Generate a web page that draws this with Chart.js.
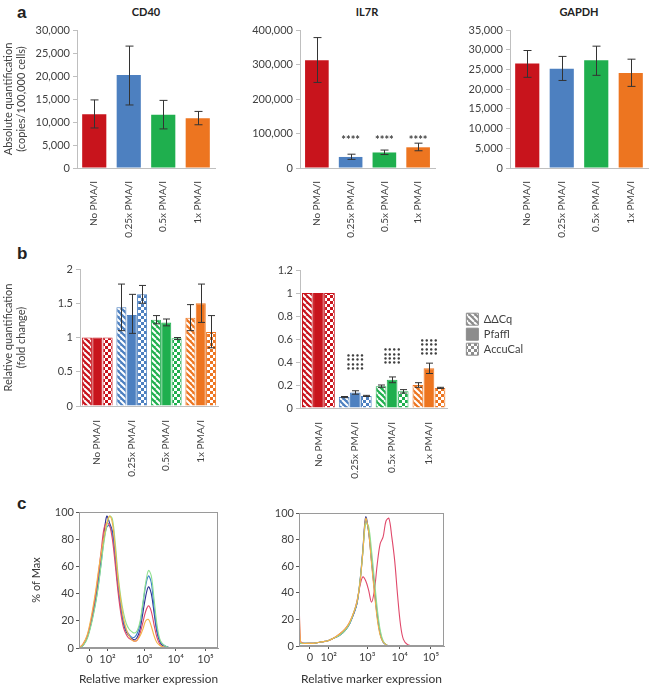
<!DOCTYPE html>
<html><head><meta charset="utf-8">
<script src="https://cdn.jsdelivr.net/npm/chart.js@4.4.1/dist/chart.umd.min.js"></script>
<style>
body{margin:0;background:#fff;}
#root{position:relative;width:650px;height:686px;overflow:hidden;background:#fff;}
.w{position:absolute;}
.t{position:absolute;font-family:Lato,"DejaVu Sans",sans-serif;color:#222;}
.p{font:bold 17px "Liberation Sans",Arial,sans-serif;}
.h{font-weight:bold;font-size:11px;text-align:center;width:100px;}
</style></head><body><div id="root">
<div class="t p" style="left:17px;top:3px">a</div>
<div class="t p" style="left:17px;top:244px">b</div>
<div class="t p" style="left:17px;top:494px">c</div>
<div class="t h" style="left:96px;top:5px">CD40</div>
<div class="t h" style="left:317px;top:5px">IL7R</div>
<div class="t h" style="left:529px;top:5px">GAPDH</div>
<div class="w" style="left:0px;top:0px"><canvas id="a1" width="222" height="245"></canvas></div>
<div class="w" style="left:225px;top:0px"><canvas id="a2" width="215" height="245"></canvas></div>
<div class="w" style="left:440px;top:0px"><canvas id="a3" width="210" height="245"></canvas></div>
<div class="w" style="left:0px;top:250px"><canvas id="b1" width="225" height="240"></canvas></div>
<div class="w" style="left:228px;top:250px"><canvas id="b2" width="305" height="240"></canvas></div>
<div class="w" style="left:30px;top:495px"><canvas id="c1" width="195" height="191"></canvas></div>
<div class="w" style="left:255px;top:495px"><canvas id="c2" width="195" height="191"></canvas></div>
</div>
<script>
// ---------------- DATA ----------------
const categories = ['No PMA/I','0.25x PMA/I','0.5x PMA/I','1x PMA/I'];
const groupColors = ['#c8141c','#4d80c0','#1faf4e','#ed7520'];

// panel a: absolute quantification (copies/100,000 cells)
const cd40Values = [11700, 20200, 11600, 10800];
const cd40Low    = [8700, 13700, 8500, 9400];
const cd40High   = [14800, 26500, 14700, 12300];
const il7rValues = [312000, 32000, 45000, 60000];
const il7rLow    = [248000, 25000, 39000, 50000];
const il7rHigh   = [378000, 40000, 52000, 72000];
const il7rSig    = ['', '****', '****', '****'];
const il7rSigPos = [null, 97000, 97000, 97000];
const gapdhValues = [26500, 25200, 27300, 24100];
const gapdhLow    = [23000, 22200, 23500, 20700];
const gapdhHigh   = [29800, 28300, 30900, 27600];

// panel b: relative quantification (fold change)
const methods = ['ΔΔCq', 'Pfaffl', 'AccuCal'];
const cd40DdCq     = [1, 1.44, 1.26, 1.29];
const cd40DdCqLow  = [null, 1.10, 1.20, 1.10];
const cd40DdCqHigh = [null, 1.78, 1.32, 1.48];
const cd40Pfaffl     = [1, 1.33, 1.22, 1.50];
const cd40PfafflLow  = [null, 1.06, 1.17, 1.22];
const cd40PfafflHigh = [null, 1.63, 1.27, 1.78];
const cd40AccuCal     = [1, 1.63, 0.99, 1.08];
const cd40AccuCalLow  = [null, 1.50, 0.97, 0.85];
const cd40AccuCalHigh = [null, 1.76, 1.00, 1.32];

const il7rDdCq     = [1, 0.095, 0.19, 0.20];
const il7rDdCqLow  = [null, 0.09, 0.18, 0.18];
const il7rDdCqHigh = [null, 0.10, 0.20, 0.22];
const il7rPfaffl     = [1, 0.135, 0.245, 0.345];
const il7rPfafflLow  = [null, 0.12, 0.22, 0.30];
const il7rPfafflHigh = [null, 0.15, 0.27, 0.39];
const il7rAccuCal     = [1, 0.105, 0.145, 0.175];
const il7rAccuCalLow  = [null, 0.10, 0.13, 0.17];
const il7rAccuCalHigh = [null, 0.11, 0.16, 0.18];
const il7rRelSig    = ['', '••••\n••••\n••••\n••••', '••••\n••••\n••••\n••••', '••••\n••••\n••••\n••••'];
const il7rRelSigTop = [null, 0.48, 0.53, 0.61];

// panel c: flow cytometry histograms (% of Max)
const cTickPos    = [7.5, 20.5, 47, 69.5, 91];
const cTickLabels = ['0', '10²', '10³', '10⁴', '10⁵'];
const cLeftX = [0,3,6,9,12,14,16,18,20,22,24,26,28,30,32,34,36,38,40,42,44,46,48,50,52,54,56,58,60,63,66,70,80,90,100];
const cLeftNavy   = [0,2,8,20,36,50,66,84,97,92,86,68,46,30,18,12,9,7,6,8,14,26,38,45,40,26,12,5,2,1,0,0,0,0,0];
const cLeftBlue   = [0,2,8,19,34,47,63,80,89,90,84,67,46,30,19,13,10,8,8,11,18,32,46,53,48,30,14,6,3,1,0,0,0,0,0];
const cLeftGreen  = [0,2,7,18,33,46,62,78,90,97,95,78,55,38,26,18,14,12,11,13,20,34,48,57,53,36,18,7,3,1,0,0,0,0,0];
const cLeftRed    = [0,3,9,22,40,55,72,88,92,90,80,62,42,26,15,10,7,6,5,6,11,19,27,31,27,17,8,3,1,0,0,0,0,0,0];
const cLeftOrange = [0,3,10,24,42,57,70,82,92,97,92,74,52,35,22,14,9,6,5,6,9,14,20,21,16,9,4,2,1,0,0,0,0,0,0];
const cRightX = [0,1,3,6,10,15,20,24,28,32,35,38,40,42,44,46,48,50,52,54,56,58,60,62,64,66,68,70,72,75,80,90,100];
const cRightNavy   = [3,2,2,2,2,3,4,6,8,12,17,25,32,48,72,97,86,64,42,22,9,3,1,0,0,0,0,0,0,0,0,0,0];
const cRightBlue   = [3,2,2,2,2,3,4,6,8,12,17,25,32,47,70,95,87,66,44,24,10,3,1,0,0,0,0,0,0,0,0,0,0];
const cRightGreen  = [3,2,2,2,2,3,4,6,8,12,17,26,33,48,70,92,90,72,50,28,12,4,1,0,0,0,0,0,0,0,0,0,0];
const cRightOrange = [45,3,2,2,2,3,4,6,9,13,18,26,33,47,70,96,86,62,40,20,8,3,1,0,0,0,0,0,0,0,0,0,0];
const cRightRed    = [48,4,2,2,2,3,4,6,9,13,18,26,34,45,52,49,42,33,42,62,77,82,94,96,82,64,38,16,5,1,0,0,0];

// ---------------- STYLE / HELPERS ----------------
Chart.defaults.font.family = 'Lato, "DejaVu Sans", sans-serif';
Chart.defaults.font.size = 11;
Chart.defaults.color = '#404040';
Chart.defaults.locale = 'en-US';
Chart.defaults.animation = false;
const AXIS = '#bfbfbf';
const ERR = '#333333';

function makePattern(color, type){
  const c = document.createElement('canvas'); c.width = 6; c.height = 6;
  const g = c.getContext('2d');
  if (type === 'hatch'){
    g.fillStyle = color; g.fillRect(0,0,6,6);
    g.strokeStyle = '#fff'; g.lineWidth = 2; g.beginPath();
    for (const k of [-6,0,6]){ g.moveTo(k,0); g.lineTo(k+6,6); }
    g.stroke();
  } else if (type === 'check'){
    g.fillStyle = '#fff'; g.fillRect(0,0,6,6);
    g.fillStyle = color; g.fillRect(3,0,3,3); g.fillRect(0,3,3,3);
  } else { g.fillStyle = color; g.fillRect(0,0,6,6); }
  return g.createPattern(c,'repeat');
}

const errorBarPlugin = {
  id:'errbars',
  afterDatasetsDraw(chart, args, o){
    const ctx = chart.ctx, ys = chart.scales.y, cap = o.cap || 4;
    chart.data.datasets.forEach((ds,i)=>{
      if (!ds.errLow) return;
      chart.getDatasetMeta(i).data.forEach((el,j)=>{
        const lo = ds.errLow[j], hi = ds.errHigh[j];
        if (lo == null || hi == null) return;
        const x = Math.round(el.x)+0.5, y1 = ys.getPixelForValue(lo), y2 = ys.getPixelForValue(hi);
        ctx.save(); ctx.strokeStyle = ERR; ctx.lineWidth = 1; ctx.beginPath();
        ctx.moveTo(x,y1); ctx.lineTo(x,y2);
        ctx.moveTo(x-cap,y1); ctx.lineTo(x+cap,y1);
        ctx.moveTo(x-cap,y2); ctx.lineTo(x+cap,y2);
        ctx.stroke(); ctx.restore();
      });
    });
  }
};
const sigPlugin = {
  id:'sig',
  afterDatasetsDraw(chart, args, o){
    if (!o.text) return;
    const meta = chart.getDatasetMeta(o.dataset || 0), ys = chart.scales.y, ctx = chart.ctx;
    ctx.save(); ctx.fillStyle = '#404040'; ctx.font = o.font; ctx.textAlign = 'center'; ctx.textBaseline = 'top';
    o.text.forEach((t,j)=>{
      if (!t) return;
      const el = meta.data[j], py = ys.getPixelForValue(o.pos[j]);
      t.split('\n').forEach((ln,k)=>ctx.fillText(ln, el.x, py + k*(o.gap||10)));
    });
    ctx.restore();
  }
};
const boxPlugin = {
  id:'box',
  afterDraw(chart){
    const a = chart.chartArea, ctx = chart.ctx;
    ctx.save(); ctx.strokeStyle = '#9a9a9a'; ctx.lineWidth = 1;
    ctx.strokeRect(Math.round(a.left)+0.5, Math.round(a.top)+0.5, Math.round(a.width)-1, Math.round(a.height)-1);
    ctx.restore();
  }
};
const fmtNum = v => String(+Number(v).toFixed(2));

function catAxis(h, pad){
  return { grid:{display:false}, border:{color:AXIS},
    ticks:{autoSkip:false, minRotation:90, maxRotation:90, padding:pad, font:{size:10}},
    afterFit:s=>{ s.height = h; } };
}
function valAxis(w, max, step, title, decimal){
  const ticks = {stepSize:step, padding:3, font:{size:11}};
  if (decimal) ticks.callback = fmtNum;
  return { min:0, max:max, ticks:ticks,
    grid:{drawOnChartArea:false, color:AXIS, tickLength:4}, border:{color:AXIS},
    title: title ? {display:true, text:title, font:{size:11}, padding:{top:2,bottom:2}} : {display:false},
    afterFit:s=>{ s.width = w; } };
}

// ---------------- PANEL a ----------------
function barA(id, vals, lo, hi, max, step, yW, padR, title, sig){
  new Chart(document.getElementById(id), {
    type:'bar',
    data:{ labels:categories, datasets:[{ data:vals, backgroundColor:groupColors, borderWidth:0,
      barPercentage:0.7, categoryPercentage:1, errLow:lo, errHigh:hi }]},
    options:{ responsive:false, animation:false,
      layout:{padding:{top:30, right:padR, left:0, bottom:0}},
      plugins:{ legend:{display:false}, tooltip:{enabled:false}, errbars:{cap:4},
        sig: sig ? {text:sig.text, pos:sig.pos, font:'bold 11px Lato, sans-serif'} : {} },
      scales:{ x:catAxis(77,5), y:valAxis(yW, max, step, title, false) } },
    plugins:[errorBarPlugin, sigPlugin]
  });
}
barA('a1', cd40Values, cd40Low, cd40High, 30000, 5000, 77, 7, ['Absolute quantification','(copies/100,000 cells)']);
barA('a2', il7rValues, il7rLow, il7rHigh, 400000, 100000, 75, 5, null, {text:il7rSig, pos:il7rSigPos});
barA('a3', gapdhValues, gapdhLow, gapdhHigh, 35000, 5000, 70, 2, null);

// ---------------- PANEL b ----------------
const patTypes = ['hatch','solid','check'];
function relDatasets(sets){
  return sets.map((s,i)=>({ label:methods[i], data:s[0], errLow:s[1], errHigh:s[2],
    backgroundColor:groupColors.map(c=>makePattern(c, patTypes[i])),
    borderColor:groupColors, borderWidth:1, barPercentage:0.97, categoryPercentage:0.9 }));
}
new Chart(document.getElementById('b1'), {
  type:'bar',
  data:{ labels:categories, datasets:relDatasets([
    [cd40DdCq, cd40DdCqLow, cd40DdCqHigh],
    [cd40Pfaffl, cd40PfafflLow, cd40PfafflHigh],
    [cd40AccuCal, cd40AccuCalLow, cd40AccuCalHigh]]) },
  options:{ responsive:false, animation:false,
    layout:{padding:{top:19, right:7, left:0, bottom:0}},
    plugins:{ legend:{display:false}, tooltip:{enabled:false}, errbars:{cap:3.5} },
    scales:{ x:catAxis(84,6), y:valAxis(80, 2, 0.5, ['Relative quantification','(fold change)'], true) } },
  plugins:[errorBarPlugin]
});
const legendGrey = '#8c8c8c';
new Chart(document.getElementById('b2'), {
  type:'bar',
  data:{ labels:categories, datasets:relDatasets([
    [il7rDdCq, il7rDdCqLow, il7rDdCqHigh],
    [il7rPfaffl, il7rPfafflLow, il7rPfafflHigh],
    [il7rAccuCal, il7rAccuCalLow, il7rAccuCalHigh]]) },
  options:{ responsive:false, animation:false,
    layout:{padding:{top:20, right:0, left:0, bottom:0}},
    plugins:{ tooltip:{enabled:false}, errbars:{cap:3.5},
      sig:{text:il7rRelSig, pos:il7rRelSigTop, dataset:1, font:'bold 7px "DejaVu Sans", sans-serif', gap:4.3},
      legend:{ display:true, position:'right', align:'start', maxWidth:100,
        title:{display:true, text:'', padding:{top:27, bottom:0}},
        labels:{ boxWidth:12, boxHeight:12, padding:3, font:{size:11}, color:'#404040',
          generateLabels:()=>methods.map((m,i)=>({ text:m, fillStyle:makePattern(legendGrey, patTypes[i]),
            strokeStyle:legendGrey, lineWidth:1, hidden:false, datasetIndex:i })) } } },
    scales:{ x:catAxis(82,6), y:valAxis(72, 1.2, 0.2, null, true),
      gap:{ position:'right', display:true, grid:{display:false}, border:{display:false}, ticks:{display:false},
        afterFit:s=>{ s.width = 16; } } } },
  plugins:[errorBarPlugin, sigPlugin]
});

// ---------------- PANEL c ----------------
const lineColors = { navy:'#2e3192', blue:'#3b7fcb', green:'#8fe08f', red:'#e0486a', orange:'#f3b54a' };
function histChart(id, xs, curves, yW, padTop, xH, padR, yTitle){
  const order = ['orange','green','red','blue','navy'];
  new Chart(document.getElementById(id), {
    type:'line',
    data:{ datasets: order.map(k=>({ label:k, data:xs.map((x,i)=>({x:x, y:curves[k][i]})),
      borderColor:lineColors[k], borderWidth:1.1, pointRadius:0, tension:0.35, fill:false })) },
    options:{ responsive:false, animation:false,
      layout:{padding:{top:padTop, right:padR, left:0, bottom:0}},
      plugins:{ legend:{display:false}, tooltip:{enabled:false} },
      scales:{
        x:{ type:'linear', min:0, max:100,
          afterBuildTicks:s=>{ s.ticks = cTickPos.map(v=>({value:v})); },
          ticks:{ autoSkip:false, maxRotation:0, padding:2, font:{size:11}, callback:(v,i)=>cTickLabels[i] },
          grid:{drawOnChartArea:false, color:'#555', tickLength:3}, border:{color:'#9a9a9a'},
          title:{display:true, text:'Relative marker expression', font:{size:12}, color:'#333', padding:{top:1,bottom:0}},
          afterFit:s=>{ s.height = xH; } },
        y:{ min:0, max:100, ticks:{stepSize:20, padding:2, font:{size:11}},
          grid:{drawOnChartArea:false, color:'#555', tickLength:3}, border:{color:'#9a9a9a'},
          title: yTitle ? {display:true, text:yTitle, font:{size:11}, color:'#333', padding:{top:0,bottom:4}} : {display:false},
          afterFit:s=>{ s.width = yW; } } } },
    plugins:[boxPlugin]
  });
}
histChart('c1', cLeftX, {navy:cLeftNavy, blue:cLeftBlue, green:cLeftGreen, red:cLeftRed, orange:cLeftOrange}, 49, 17, 38, 7, '% of Max');
histChart('c2', cRightX, {navy:cRightNavy, blue:cRightBlue, green:cRightGreen, red:cRightRed, orange:cRightOrange}, 44, 18, 40, 6, null);
</script></body></html>
